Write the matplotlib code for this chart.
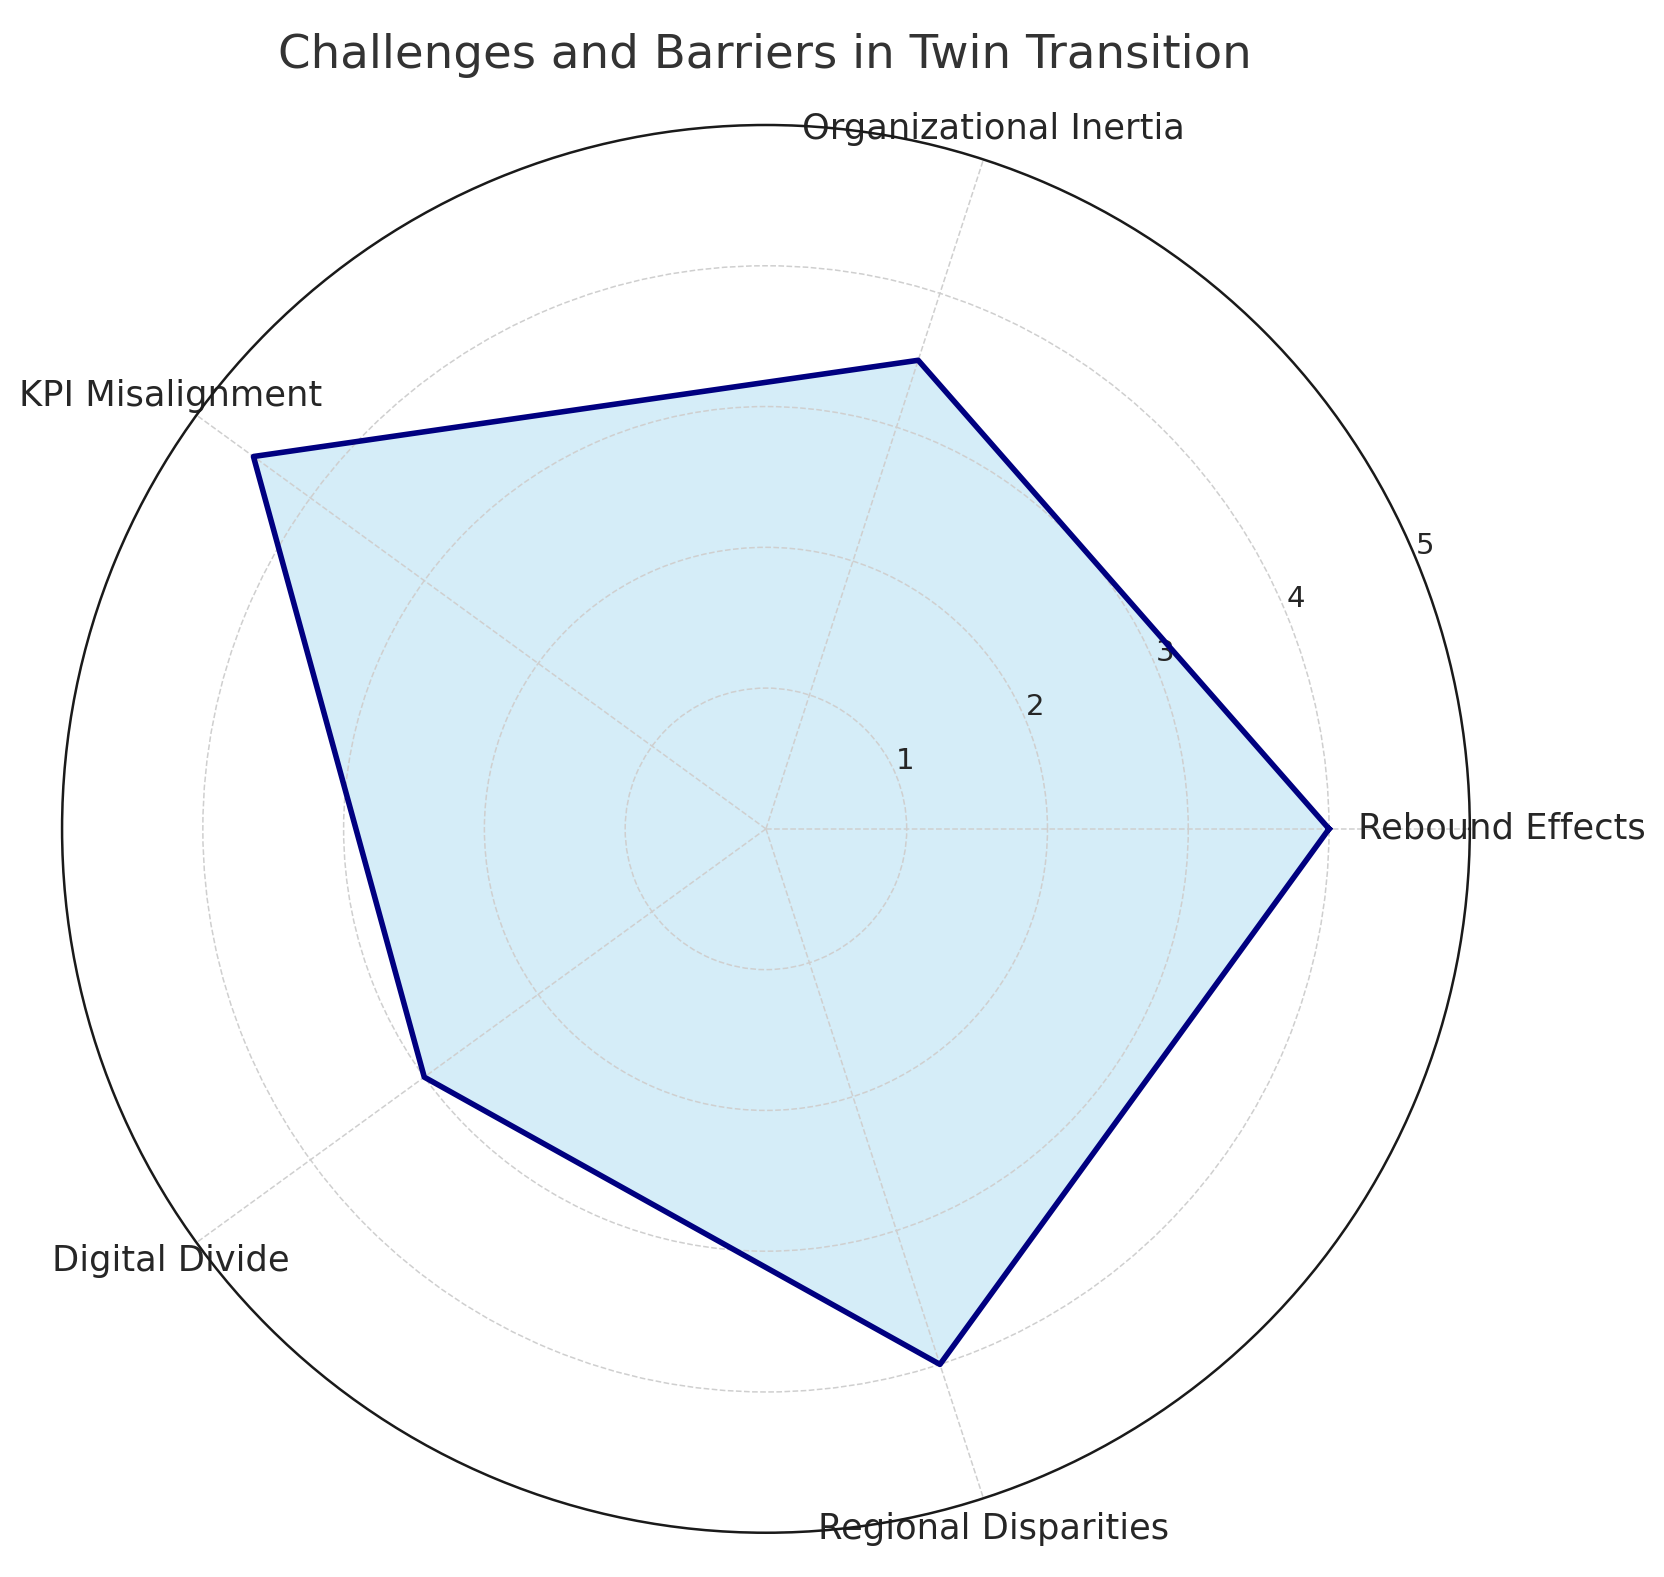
import numpy as np
import matplotlib
matplotlib.use("Agg")
import matplotlib.pyplot as plt

categories = ["Rebound Effects", "Organizational Inertia", "KPI Misalignment",
              "Digital Divide", "Regional Disparities"]
values = [4.0, 3.5, 4.5, 3.0, 4.0]
rticks = [1, 2, 3, 4, 5]
title = "Challenges and Barriers in Twin Transition"

text_color = "#262626"
fig = plt.figure(figsize=(8.32, 7.885), dpi=200)
ax = fig.add_axes([0.0373, 0.0279, 0.846, 0.893], projection="polar")

n = len(categories)
angles = np.linspace(0, 2 * np.pi, n, endpoint=False).tolist()
vals = values + values[:1]
angs = angles + angles[:1]

ax.fill(angs, vals, color="skyblue", alpha=0.35, zorder=1)
ax.plot(angs, vals, color="navy", linewidth=2, zorder=3)

ax.set_ylim(0, 5)
ax.set_yticks(rticks)
ax.set_yticklabels([str(t) for t in rticks], fontsize=10.5, color=text_color)
ax.set_xticks(angles)
ax.set_xticklabels(categories, fontsize=12.7, color=text_color)
ax.tick_params(axis="x", pad=1)
ax.grid(True, linestyle="--", color="#cfcfcf", linewidth=0.55)
ax.spines["polar"].set_color("#1a1a1a")
ax.spines["polar"].set_linewidth(0.9)

fig.text(0.4598, 0.965, title, fontsize=16.8, color="#333333", ha="center", va="center")

fig.savefig("out.png", dpi=200)
